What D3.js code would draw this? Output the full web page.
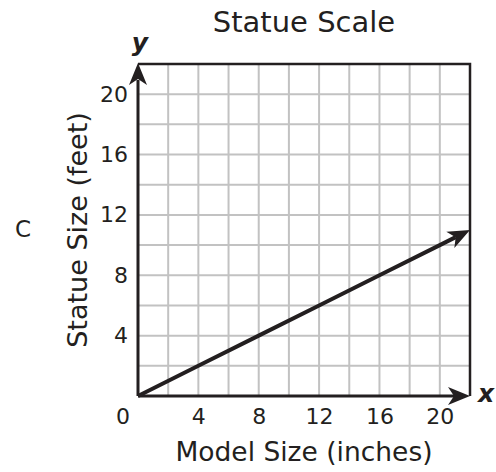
<!DOCTYPE html>
<html>
<head>
<meta charset="utf-8">
<script src="https://cdn.jsdelivr.net/npm/d3@7"></script>
<style>
  body { margin: 0; background: #fff; }
  text { font-family: "DejaVu Sans", Verdana, sans-serif; fill: #231f20; }
</style>
</head>
<body>
<div class="chart"></div>
<script>
// data
var modelSize = [0, 4, 8, 12, 16, 20, 22];
var statueSize = [0, 2, 4, 6, 8, 10, 11];
var xTicks = [4, 8, 12, 16, 20];
var yTicks = [4, 8, 12, 16, 20];
var gridSteps = [2, 4, 6, 8, 10, 12, 14, 16, 18, 20];

var W = 496, H = 472;
var margin = {top: 64, right: 26, bottom: 76, left: 138};
var width = W - margin.left - margin.right,
    height = H - margin.top - margin.bottom;

var svg = d3.select(".chart")
  .append("svg")
    .attr("width", W)
    .attr("height", H);

var g = svg.append("g")
    .attr("transform", "translate(" + margin.left + "," + margin.top + ")");

var x = d3.scaleLinear().domain([0, 22]).range([0, width]);
var y = d3.scaleLinear().domain([0, 22]).range([height, 0]);

// grid
g.append("g").selectAll("line")
  .data(gridSteps)
  .enter().append("line")
    .attr("x1", function (d) { return x(d); })
    .attr("x2", function (d) { return x(d); })
    .attr("y1", 0)
    .attr("y2", height)
    .style("stroke", "#c2c2c2")
    .style("stroke-width", 2);

g.append("g").selectAll("line")
  .data(gridSteps)
  .enter().append("line")
    .attr("y1", function (d) { return y(d); })
    .attr("y2", function (d) { return y(d); })
    .attr("x1", 0)
    .attr("x2", width)
    .style("stroke", "#c2c2c2")
    .style("stroke-width", 2);

// frame top + right
g.append("path")
  .attr("d", "M0," + y(22) + "H" + x(22) + "V" + y(0))
  .style("fill", "none")
  .style("stroke", "#231f20")
  .style("stroke-width", 2.5);

// arrow head helper
function arrowHead(px, py, angle) {
  g.append("path")
    .attr("d", "M0,0L-22,-9L-16,0L-22,9Z")
    .attr("transform", "translate(" + px + "," + py + ")rotate(" + angle + ")")
    .style("fill", "#231f20");
}

// axes lines with arrows
g.append("line")
  .attr("x1", x(0)).attr("y1", y(0))
  .attr("x2", x(0)).attr("y2", y(22) + 16)
  .style("stroke", "#231f20").style("stroke-width", 3);
arrowHead(x(0), y(22) - 1, -90);

g.append("line")
  .attr("x1", x(0)).attr("y1", y(0))
  .attr("x2", x(22) - 16).attr("y2", y(0))
  .style("stroke", "#231f20").style("stroke-width", 3);
arrowHead(x(22), y(0), 0);

// tick labels
var xAxis = g.append("g")
  .attr("transform", "translate(0," + height + ")")
  .call(d3.axisBottom(x).tickValues(xTicks).tickSize(0).tickPadding(12));
xAxis.select(".domain").remove();
xAxis.selectAll("text").style("font-size", "22px").style("font-family", null);

var yAxis = g.append("g")
  .call(d3.axisLeft(y).tickValues(yTicks).tickSize(0).tickPadding(10));
yAxis.select(".domain").remove();
yAxis.selectAll("text").style("font-size", "22px").style("font-family", null);

g.append("text")
  .attr("x", x(0) - 15)
  .attr("y", height + 12)
  .attr("dy", "0.71em")
  .attr("text-anchor", "middle")
  .style("font-size", "22px")
  .text("0");

// the line
var pts = modelSize.map(function (d, i) { return [x(d), y(statueSize[i])]; });
var last = pts[pts.length - 1], prev = pts[0];
var ang = Math.atan2(last[1] - prev[1], last[0] - prev[0]);
var linePts = pts.slice(0, -1).concat([[last[0] - 16 * Math.cos(ang), last[1] - 16 * Math.sin(ang)]]);

g.append("path")
  .datum(linePts)
  .attr("d", d3.line())
  .style("fill", "none")
  .style("stroke", "#231f20")
  .style("stroke-width", 4);
arrowHead(last[0], last[1], ang * 180 / Math.PI);

// labels
svg.append("text")
  .attr("x", 304).attr("y", 32)
  .attr("text-anchor", "middle")
  .style("font-size", "29px")
  .text("Statue Scale");

svg.append("text")
  .attr("x", 304).attr("y", 461)
  .attr("text-anchor", "middle")
  .style("font-size", "26.5px")
  .text("Model Size (inches)");

svg.append("text")
  .attr("transform", "translate(87,230)rotate(-90)")
  .attr("text-anchor", "middle")
  .style("font-size", "27px")
  .text("Statue Size (feet)");

svg.append("text")
  .attr("x", 23).attr("y", 237)
  .attr("text-anchor", "middle")
  .style("font-size", "23px")
  .text("C");

svg.append("text")
  .attr("x", 140).attr("y", 51)
  .attr("text-anchor", "middle")
  .style("font-size", "25px")
  .style("font-weight", "bold")
  .style("font-style", "italic")
  .text("y");

svg.append("text")
  .attr("x", 486).attr("y", 402)
  .attr("text-anchor", "middle")
  .style("font-size", "25px")
  .style("font-weight", "bold")
  .style("font-style", "italic")
  .text("x");
</script>
</body>
</html>
